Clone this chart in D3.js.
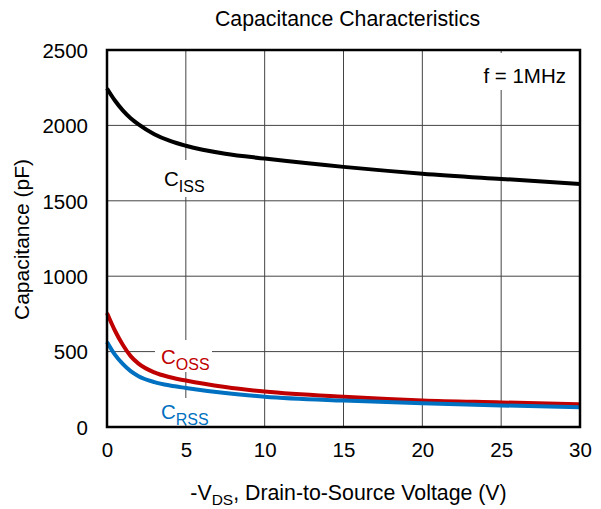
<!DOCTYPE html>
<html>
<head>
<meta charset="utf-8">
<script src="https://cdn.jsdelivr.net/npm/d3@7"></script>
<style>
html,body{margin:0;padding:0;background:#fff;}
text{font-family:"Liberation Sans",Arial,sans-serif;fill:#000;}
</style>
</head>
<body>
<svg id="chart" width="601" height="509"></svg>
<script>
const vds  = [0, 0.5, 1, 1.5, 2, 3, 4, 5, 7.5, 10, 15, 20, 25, 30];
const ciss = [2245, 2165, 2100, 2048, 2007, 1942, 1897, 1865, 1812, 1780, 1725, 1680, 1645, 1612];
const coss = [756, 640, 545, 470, 420, 362, 330, 308, 265, 235, 200, 176, 163, 150];
const crss = [564, 480, 418, 370, 337, 298, 275, 259, 225, 201, 175, 157, 143, 131];
const xTicks = [0, 5, 10, 15, 20, 25, 30];
const yTicks = [0, 500, 1000, 1500, 2000, 2500];

const svg = d3.select("#chart");
const L = 107, R = 580, T = 50, B = 427;
const FS = "20.5px";
const x = d3.scaleLinear().domain([0, 30]).range([L, R]);
const y = d3.scaleLinear().domain([0, 2500]).range([B, T]);

// grid
svg.append("g").selectAll("line").data(xTicks.slice(1, -1)).join("line")
  .attr("x1", d => x(d)).attr("x2", d => x(d)).attr("y1", T).attr("y2", B)
  .attr("stroke", "#444").attr("stroke-width", 1);
svg.append("g").selectAll("line").data(yTicks.slice(1, -1)).join("line")
  .attr("y1", d => y(d)).attr("y2", d => y(d)).attr("x1", L).attr("x2", R)
  .attr("stroke", "#444").attr("stroke-width", 1);

// label background boxes
function bg(x0, y0, w, h) {
  svg.append("rect").attr("x", x0).attr("y", y0).attr("width", w).attr("height", h).attr("fill", "#fff");
}
bg(470, 53, 106, 37);
bg(158, 160, 52, 37);
bg(155, 340, 57, 32);
bg(155, 398, 57, 27);

// axes
const xAxis = d3.axisBottom(x).tickValues(xTicks).tickFormat(d3.format("d")).tickSize(0).tickPadding(15);
const yAxis = d3.axisLeft(y).tickValues(yTicks).tickFormat(d3.format("d")).tickSize(0).tickPadding(19);
const gx = svg.append("g").attr("transform", `translate(0,${B})`).call(xAxis);
const gy = svg.append("g").attr("transform", `translate(${L},0)`).call(yAxis);
[gx, gy].forEach(g => {
  g.select(".domain").remove();
  g.selectAll("text").style("font-size", FS).style("font-family", "'Liberation Sans', Arial, sans-serif");
});
gx.selectAll("text").attr("dy", "0.72em");
gy.selectAll("text").attr("dy", "0.36em");

// curves
const line = d3.line().x(d => x(d[0])).y(d => y(d[1])).curve(d3.curveMonotoneX);
const series = [
  {v: ciss, c: "#000000"},
  {v: coss, c: "#c00000"},
  {v: crss, c: "#0070c0"}
];
svg.append("g").selectAll("path").data(series).join("path")
  .attr("d", s => line(vds.map((v, i) => [v, s.v[i]])))
  .attr("fill", "none").attr("stroke", s => s.c).attr("stroke-width", 4)
  .attr("stroke-linecap", "butt");

// frame
svg.append("rect").attr("x", L).attr("y", T).attr("width", R - L).attr("height", B - T)
  .attr("fill", "none").attr("stroke", "#000").attr("stroke-width", 2.5);

// labels
function sublabel(xp, yp, main, sub, color) {
  const t = svg.append("text").attr("x", xp).attr("y", yp).style("font-size", FS).style("fill", color);
  t.append("tspan").text(main);
  t.append("tspan").attr("dy", 6).style("font-size", "16px").text(sub);
}
sublabel(164, 186, "C", "ISS", "#000");
sublabel(161, 364, "C", "OSS", "#c00000");
sublabel(161, 419, "C", "RSS", "#0070c0");

svg.append("text").attr("x", 566).attr("y", 83).attr("text-anchor", "end")
  .style("font-size", FS).text("f = 1MHz");

// title
svg.append("text").attr("x", (L + R) / 2 + 4).attr("y", 26).attr("text-anchor", "middle")
  .style("font-size", "21.3px").text("Capacitance Characteristics");

// x title
const xt = svg.append("text").attr("x", (L + R) / 2 + 5).attr("y", 500).attr("text-anchor", "middle")
  .style("font-size", "21.3px");
xt.append("tspan").text("-V");
xt.append("tspan").attr("dy", 5).style("font-size", "15.5px").text("DS");
xt.append("tspan").attr("dy", -5).text(", Drain-to-Source Voltage (V)");

// y title
svg.append("text").attr("transform", `translate(29,${(T + B) / 2 + 1}) rotate(-90)`)
  .attr("text-anchor", "middle").style("font-size", "21px").text("Capacitance (pF)");
</script>
</body>
</html>
